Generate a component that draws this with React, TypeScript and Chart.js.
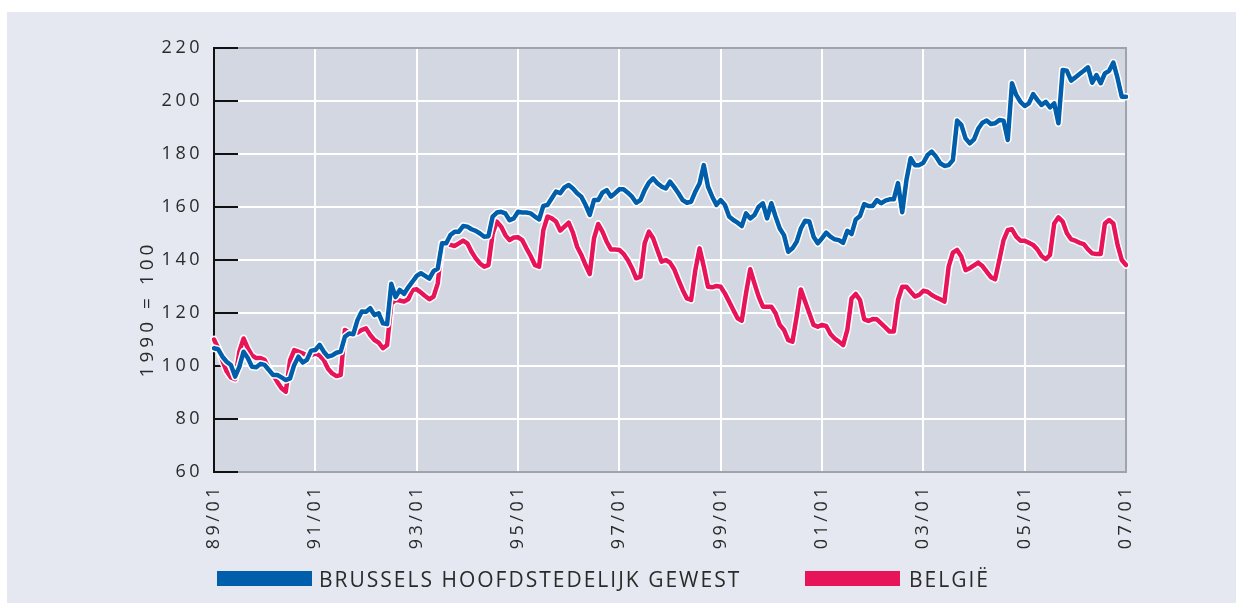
import React, { useEffect, useRef } from 'react';
import { Chart, registerables } from 'chart.js';

Chart.register(...registerables);

// ---------- data ----------
const START_YEAR = 1989;
const MONTH_COUNT = 217; // 89/01 .. 07/01
const MONTH_LABELS: string[] = Array.from({ length: MONTH_COUNT }, (_, i) => {
  const yy = (START_YEAR + Math.floor(i / 12)) % 100;
  const mm = (i % 12) + 1;
  return `${String(yy).padStart(2, '0')}/${String(mm).padStart(2, '0')}`;
});
const LABEL_EVERY = 24;

const Y_MIN = 60;
const Y_MAX = 220;
const Y_STEP = 20;
const Y_TITLE = '1990 = 100';

const SERIES_NAMES = ['BRUSSELS HOOFDSTEDELIJK GEWEST', 'BELGIË'];

const BRUSSELS: number[] = [
  106.7, 106.3, 103.5, 101.6, 100.4, 96.0, 99.7, 105.4, 103.0, 99.7, 99.5, 100.8,
  100.4, 98.5, 96.6, 96.6, 95.7, 94.7, 95.3, 100.4, 103.5, 101.3, 102.3, 105.8,
  106.0, 108.0, 105.4, 103.5, 104.0, 105.0, 105.4, 111.0, 112.3, 112.0, 117.4, 120.6,
  120.5, 121.8, 119.2, 119.9, 116.1, 115.8, 131.0, 126.0, 128.7, 127.2, 129.7, 131.8,
  134.0, 135.0, 134.0, 133.0, 135.8, 136.8, 146.3, 146.3, 149.4, 150.7, 150.7, 152.8,
  152.6, 151.6, 151.0, 150.0, 148.8, 149.0, 156.4, 157.9, 158.2, 157.6, 155.0, 155.7,
  158.2, 157.9, 157.9, 157.6, 156.4, 155.3, 160.4, 160.8, 163.3, 165.8, 165.2, 167.4,
  168.3, 167.0, 165.2, 163.9, 160.8, 157.0, 162.6, 162.6, 165.4, 166.4, 163.9, 165.2,
  166.7, 166.7, 165.4, 163.9, 161.6, 162.6, 166.4, 169.2, 170.8, 169.0, 167.7, 167.0,
  169.6, 167.5, 165.2, 162.6, 161.6, 162.0, 165.8, 168.9, 175.8, 167.7, 163.9, 160.8,
  162.6, 160.8, 156.4, 155.1, 154.1, 152.8, 157.6, 155.7, 157.0, 160.1, 161.4, 155.7,
  161.4, 156.4, 151.9, 149.4, 143.1, 144.4, 146.9, 151.9, 154.8, 154.5, 148.8, 146.3,
  148.2, 150.3, 148.8, 147.8, 147.5, 146.5, 151.0, 149.8, 155.3, 156.6, 161.1, 160.4,
  160.4, 162.6, 161.4, 162.4, 162.9, 162.9, 169.0, 158.0, 170.2, 178.4, 175.8, 175.8,
  176.7, 179.6, 180.9, 179.0, 176.5, 175.5, 175.8, 177.7, 192.6, 191.0, 185.9, 184.0,
  185.5, 189.5, 191.8, 192.6, 191.3, 191.6, 192.8, 192.6, 185.3, 206.7, 202.3, 199.7,
  198.1, 199.1, 202.6, 200.4, 198.5, 199.7, 197.6, 199.1, 191.6, 211.7, 211.4, 207.7,
  208.9, 210.2, 211.4, 212.7, 206.9, 209.8, 206.7, 210.4, 211.4, 214.5, 208.6, 201.6,
  201.6,
];

const BELGIE: number[] = [
  110.0, 106.7, 102.0, 98.0, 95.7, 95.0, 105.4, 110.4, 106.7, 104.0, 103.0, 103.0,
  102.3, 99.0, 96.6, 94.0, 91.6, 90.3, 102.0, 106.0, 105.4, 104.8, 104.0, 104.0,
  104.8, 104.0, 102.3, 99.0, 97.2, 96.2, 96.6, 113.6, 112.6, 112.3, 112.6, 113.6,
  114.2, 111.7, 109.8, 108.8, 106.7, 107.9, 123.6, 124.9, 124.7, 124.3, 125.2, 128.7,
  129.0, 127.7, 126.4, 125.2, 126.2, 131.2, 146.3, 146.9, 145.7, 145.3, 146.3, 147.3,
  146.3, 143.1, 140.6, 138.7, 137.5, 138.1, 150.0, 154.5, 152.6, 149.4, 147.5, 148.5,
  148.6, 147.5, 144.4, 141.5, 138.1, 137.5, 151.3, 156.4, 155.7, 154.5, 151.1, 152.6,
  154.1, 150.3, 145.0, 141.9, 138.1, 134.7, 148.2, 153.6, 150.7, 146.9, 144.0, 144.0,
  143.8, 142.3, 140.0, 136.9, 133.1, 133.7, 146.3, 150.7, 148.2, 143.8, 139.4, 140.0,
  139.0, 136.5, 132.5, 128.7, 125.5, 124.9, 136.2, 144.4, 137.5, 129.9, 129.7, 130.2,
  129.9, 127.4, 124.3, 121.1, 118.0, 117.1, 127.4, 136.5, 131.2, 126.2, 122.4, 122.4,
  122.4, 119.9, 115.5, 113.6, 109.8, 109.2, 118.6, 128.9, 124.3, 119.9, 115.5, 114.8,
  115.5, 115.1, 112.1, 110.4, 109.2, 107.9, 113.6, 125.5, 127.2, 124.9, 117.6, 117.0,
  117.7, 117.6, 116.1, 114.6, 113.0, 113.0, 124.9, 129.9, 129.9, 128.0, 126.2, 126.8,
  128.4, 128.0, 126.8, 125.9, 125.2, 124.3, 137.5, 142.8, 143.8, 141.3, 136.2, 136.9,
  138.0, 139.0, 137.7, 135.6, 133.5, 132.7, 140.0, 147.5, 151.3, 151.6, 148.8, 147.3,
  147.3, 146.5, 145.7, 144.0, 141.5, 140.3, 141.9, 153.8, 156.1, 154.5, 150.1, 147.8,
  147.3, 146.5, 146.0, 144.0, 142.5, 142.3, 142.3, 153.8, 155.1, 153.8, 145.7, 140.0,
  138.1,
];

// ---------- styles ----------
const BLUE = '#005eaa';
const PINK = '#e8145a';
const PAGE_BG = '#e5e8f0';
const PLOT_BG = '#d3d7e1';
const TEXT = '#2a2a2a';
const FONT = '"Open Sans", "Noto Sans", sans-serif';

const W = 1242;
const H = 603;

const framePlugin = {
  id: 'frame',
  beforeDraw(chart: any) {
    const { ctx, chartArea } = chart;
    ctx.letterSpacing = '3.5px';
    ctx.save();
    ctx.fillStyle = PLOT_BG;
    ctx.fillRect(chartArea.left, chartArea.top, chartArea.right - chartArea.left, chartArea.bottom - chartArea.top);
    ctx.restore();
  },
  beforeDatasetsDraw(chart: any) {
    const { ctx, chartArea } = chart;
    const { left, right, top, bottom } = chartArea;
    const yScale = chart.scales.y;
    ctx.save();
    ctx.lineWidth = 2;
    ctx.strokeStyle = '#9fa3ab';
    ctx.beginPath();
    ctx.moveTo(left, top);
    ctx.lineTo(right, top);
    ctx.lineTo(right, bottom);
    ctx.lineTo(left, bottom);
    ctx.stroke();
    ctx.strokeStyle = '#111';
    ctx.beginPath();
    ctx.moveTo(left, top - 1);
    ctx.lineTo(left, bottom + 1);
    ctx.stroke();
    for (let v = Y_MIN; v <= Y_MAX; v += Y_STEP) {
      const y = yScale.getPixelForValue(v);
      ctx.beginPath();
      ctx.moveTo(left, y);
      ctx.lineTo(left + 24, y);
      ctx.stroke();
    }
    ctx.restore();
  },
  afterDraw(chart: any) {
    const { ctx } = chart;
    ctx.save();
    ctx.letterSpacing = '4px';
    ctx.translate(148, 311);
    ctx.rotate(-Math.PI / 2);
    ctx.fillStyle = TEXT;
    ctx.font = `19px ${FONT}`;
    ctx.textAlign = 'center';
    ctx.textBaseline = 'middle';
    ctx.fillText(Y_TITLE, 2, 0);
    ctx.restore();
  },
};

function ChartCanvas() {
  const ref = useRef<HTMLCanvasElement>(null);
  useEffect(() => {
    if (!ref.current) return;
    const lineBase = {
      pointRadius: 0,
      pointHoverRadius: 0,
      tension: 0,
      borderJoinStyle: 'round' as const,
      borderCapStyle: 'round' as const,
      fill: false,
    };
    const chart = new Chart(ref.current, {
      type: 'line',
      data: {
        labels: MONTH_LABELS,
        datasets: [
          { ...lineBase, label: SERIES_NAMES[0], data: BRUSSELS, borderColor: BLUE, borderWidth: 4.5 },
          { ...lineBase, label: SERIES_NAMES[0] + ' outline', data: BRUSSELS, borderColor: '#ffffff', borderWidth: 7.5 },
          { ...lineBase, label: SERIES_NAMES[1], data: BELGIE, borderColor: PINK, borderWidth: 4.5 },
          { ...lineBase, label: SERIES_NAMES[1] + ' outline', data: BELGIE, borderColor: '#ffffff', borderWidth: 7.5 },
        ],
      },
      options: {
        responsive: false,
        animation: false,
        devicePixelRatio: 1,
        layout: { padding: { left: 0, right: W - 1126, top: 48, bottom: 0 } },
        plugins: { legend: { display: false }, tooltip: { enabled: false } },
        events: [],
        scales: {
          x: {
            type: 'category',
            offset: false,
            afterFit: (s: any) => { s.height = H - 472; },
            grid: {
              drawTicks: false,
              lineWidth: 2,
              color: (c: any) => (c.index === 0 || c.index === MONTH_COUNT - 1 ? 'rgba(0,0,0,0)' : '#ffffff'),
            },
            border: { display: false },
            ticks: {
              autoSkip: false,
              minRotation: 90,
              maxRotation: 90,
              padding: 12,
              color: TEXT,
              font: { family: FONT, size: 18 },
              callback: (_v: any, i: number) => (i % LABEL_EVERY === 0 ? MONTH_LABELS[i] : null),
            },
          },
          y: {
            min: Y_MIN,
            max: Y_MAX,
            afterFit: (s: any) => { s.width = 214; },
            grid: {
              drawTicks: false,
              lineWidth: 2,
              color: (c: any) => (c.tick && (c.tick.value === Y_MIN || c.tick.value === Y_MAX) ? 'rgba(0,0,0,0)' : '#ffffff'),
            },
            border: { display: false },
            ticks: {
              stepSize: Y_STEP,
              padding: 11,
              color: TEXT,
              font: { family: FONT, size: 18 },
            },
          },
        },
      },
      plugins: [framePlugin],
    });
    return () => chart.destroy();
  }, []);
  return <canvas ref={ref} width={W} height={H} style={{ position: 'absolute', left: 0, top: 0, width: W, height: H }} />;
}

function LegendItem({ color, label, x, textX }: { color: string; label: string; x: number; textX: number }) {
  return (
    <>
      <div style={{ position: 'absolute', left: x, top: 571, width: 95, height: 15, background: color }} />
      <div
        style={{
          position: 'absolute',
          left: textX,
          top: 564,
          height: 30,
          lineHeight: '30px',
          fontFamily: FONT,
          fontSize: 21,
          letterSpacing: '2px',
          color: TEXT,
          whiteSpace: 'nowrap',
        }}
      >
        {label}
      </div>
    </>
  );
}

export default function App() {
  return (
    <div style={{ position: 'absolute', left: 0, top: 0, width: W, height: H, background: '#ffffff', overflow: 'hidden' }}>
      <div style={{ position: 'absolute', left: 7, top: 12, width: 1229, height: H - 12, background: PAGE_BG }} />
      <ChartCanvas />
      <LegendItem color={BLUE} label={SERIES_NAMES[0]} x={217} textX={319} />
      <LegendItem color={PINK} label={SERIES_NAMES[1]} x={805} textX={909} />
    </div>
  );
}
